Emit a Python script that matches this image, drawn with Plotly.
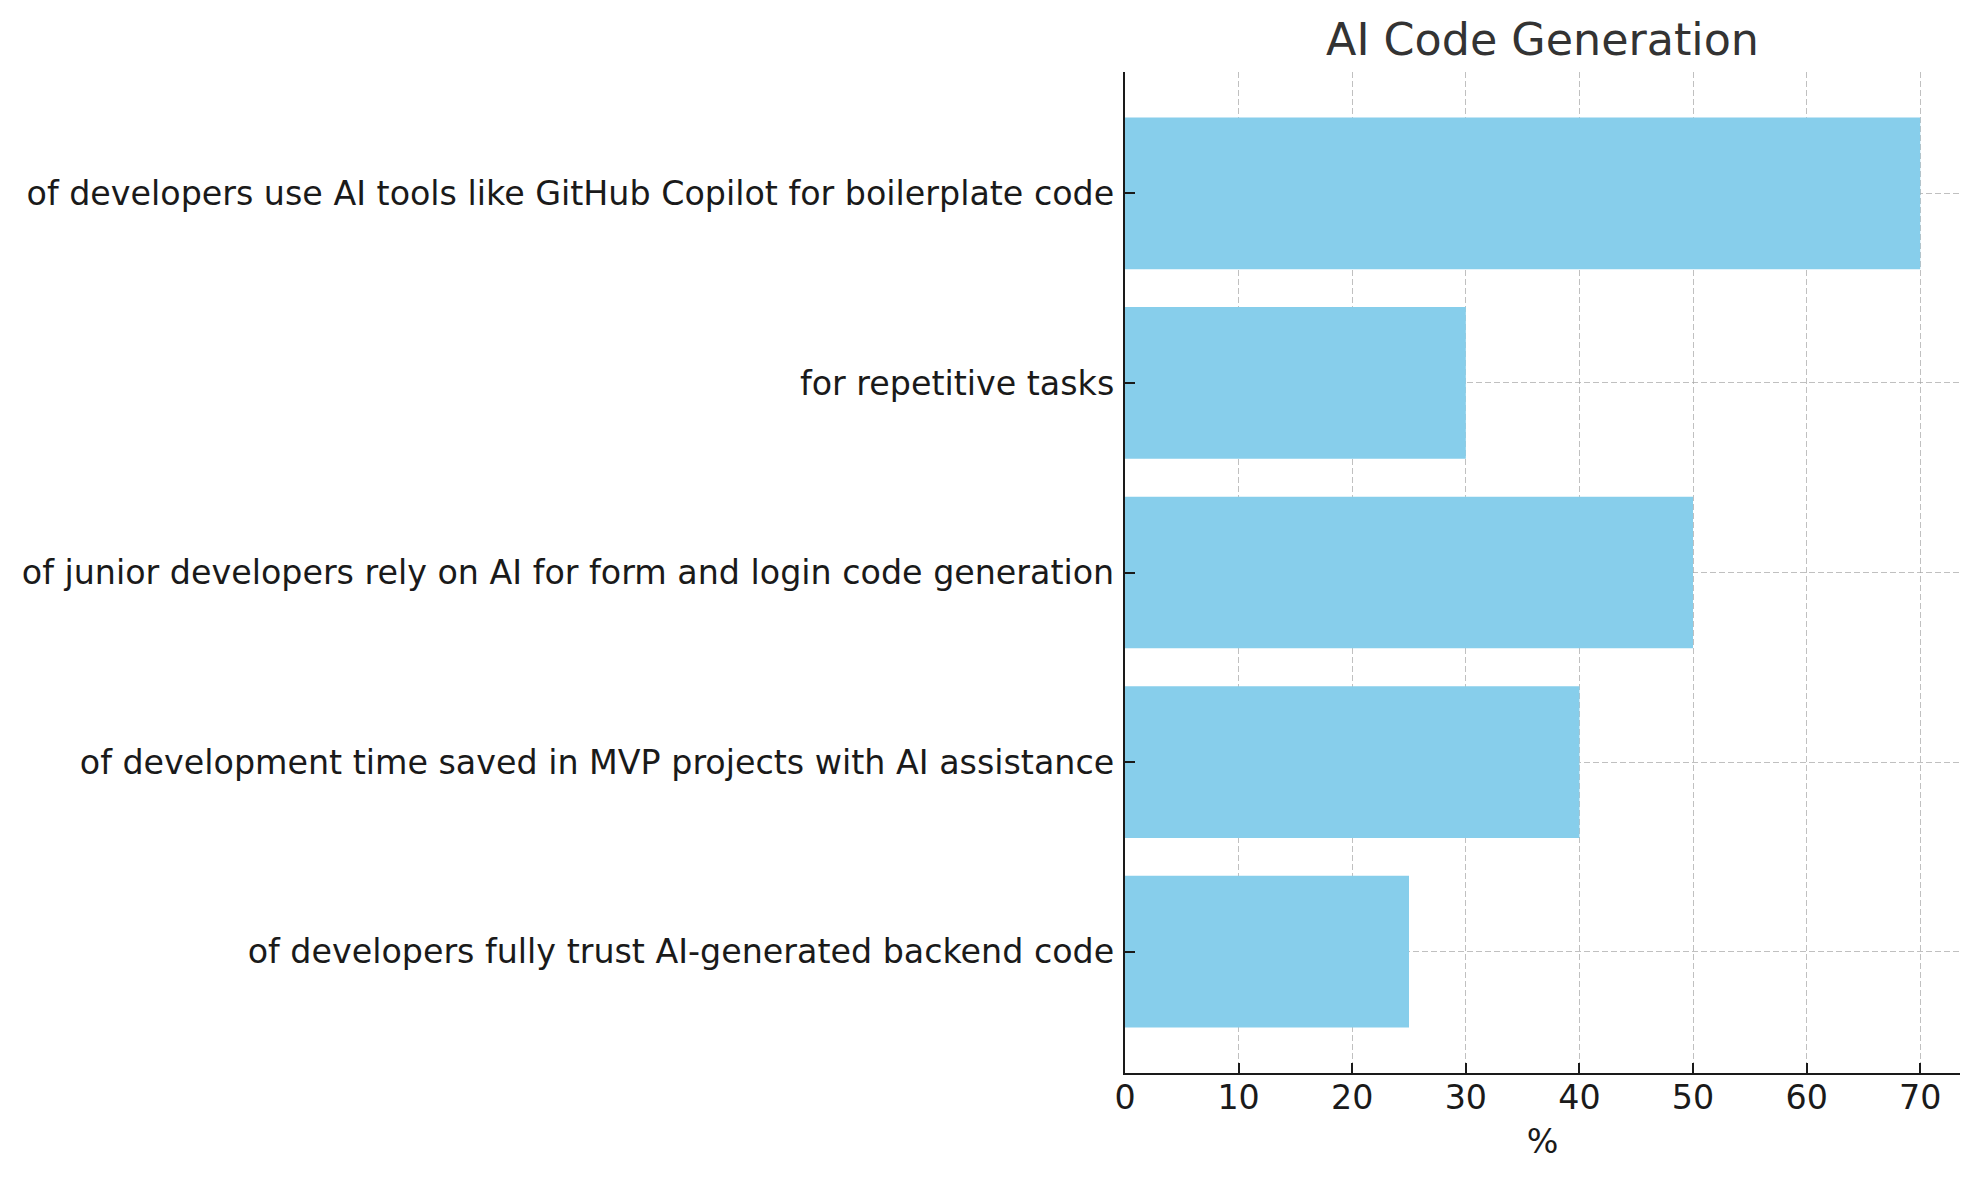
import plotly.graph_objects as go

categories = [
    "of developers use AI tools like GitHub Copilot for boilerplate code",
    "for repetitive tasks",
    "of junior developers rely on AI for form and login code generation",
    "of development time saved in MVP projects with AI assistance",
    "of developers fully trust AI-generated backend code",
]
values = [70, 30, 50, 40, 25]
x_ticks = [0, 10, 20, 30, 40, 50, 60, 70]

FONT = "DejaVu Sans"
TXT = "#1a1a1a"
GRID = "rgba(165,165,165,0.7)"
X_RANGE = [0, 73.5]
Y_RANGE = [4.64, -0.64]

fig = go.Figure()
fig.add_trace(
    go.Bar(
        x=values,
        y=categories,
        orientation="h",
        width=0.8,
        marker=dict(color="#87CEEB", line=dict(width=0)),
        hoverinfo="x+y",
    )
)
# invisible trace on overlay axes so that the dashed grid is drawn above the bars
fig.add_trace(
    go.Scatter(
        x=values,
        y=categories,
        xaxis="x2",
        yaxis="y2",
        mode="markers",
        marker=dict(opacity=0),
        hoverinfo="skip",
        showlegend=False,
    )
)

fig.update_layout(
    width=1979,
    height=1180,
    paper_bgcolor="white",
    plot_bgcolor="white",
    margin=dict(l=1125, r=19, t=72, b=107),
    showlegend=False,
    bargap=0.2,
    title=dict(
        text="AI Code Generation",
        x=(1125 + 1960) / 2 / 1979,
        xanchor="center",
        y=1 - 39 / 1180,
        yanchor="middle",
        font=dict(family=FONT, size=44.4, color="#333333"),
    ),
    font=dict(family=FONT, size=33.3, color=TXT),
    xaxis=dict(
        range=X_RANGE,
        tickvals=x_ticks,
        ticktext=[str(v) for v in x_ticks],
        showline=True,
        linecolor=TXT,
        linewidth=2.2,
        ticks="inside",
        ticklen=10,
        tickwidth=2.2,
        tickcolor=TXT,
        showgrid=False,
        zeroline=False,
        layer="above traces",
        tickfont=dict(family=FONT, size=33.3, color=TXT),
        title=dict(text="%", font=dict(family=FONT, size=33.3, color=TXT), standoff=14),
        ticklabelstandoff=-6,
    ),
    yaxis=dict(
        type="category",
        categoryorder="array",
        categoryarray=categories,
        range=Y_RANGE,
        showline=True,
        linecolor=TXT,
        linewidth=2.2,
        ticks="inside",
        ticklen=10,
        tickwidth=2.2,
        tickcolor=TXT,
        showgrid=False,
        zeroline=False,
        layer="above traces",
        tickfont=dict(family=FONT, size=33.3, color=TXT),
        ticklabelstandoff=2,
    ),
    xaxis2=dict(
        overlaying="x",
        range=X_RANGE,
        tickvals=x_ticks,
        showticklabels=False,
        showline=False,
        ticks="",
        showgrid=True,
        gridcolor=GRID,
        gridwidth=1.4,
        griddash="6px,3px",
        zeroline=False,
    ),
    yaxis2=dict(
        overlaying="y",
        type="category",
        categoryorder="array",
        categoryarray=categories,
        range=Y_RANGE,
        showticklabels=False,
        showline=False,
        ticks="",
        showgrid=True,
        gridcolor=GRID,
        gridwidth=1.4,
        griddash="6px,3px",
        zeroline=False,
    ),
)

fig.write_html("out.html")
